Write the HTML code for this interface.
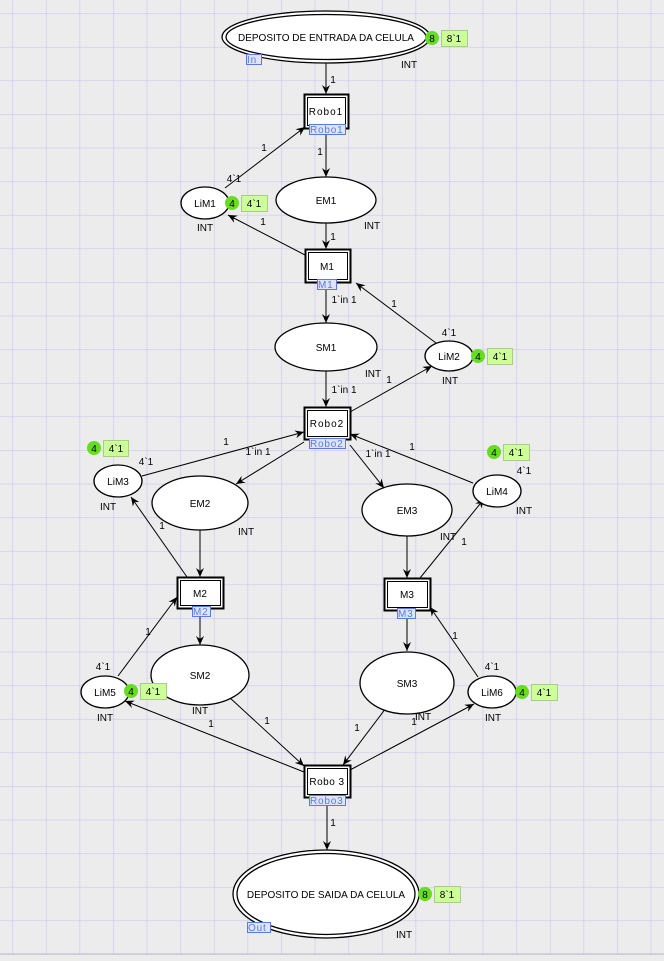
<!DOCTYPE html>
<html><head><meta charset="utf-8"><style>
html,body{margin:0;padding:0;background:#ececec;}
svg{display:block;font-family:"Liberation Sans",sans-serif;}
</style></head><body>
<svg width="664" height="961" viewBox="0 0 664 961" xmlns="http://www.w3.org/2000/svg">
<defs>
<pattern id="g" x="12.3" y="13.3" width="33.6" height="33.6" patternUnits="userSpaceOnUse">
<path d="M0 0H33.6M0 0V33.6" stroke="#c8c8f4" stroke-width="1.3" fill="none"/>
</pattern>
<marker id="a" markerWidth="10" markerHeight="10" refX="9" refY="5" orient="auto" markerUnits="userSpaceOnUse">
<path d="M0,1 L9,5 L0,9 L3,5 z" fill="#000"/>
</marker>
</defs>
<rect width="664" height="961" fill="#ececec"/>
<rect width="664" height="955" fill="url(#g)"/>
<line x1="0" y1="954" x2="664" y2="954" stroke="#b8b8c8"/>

<g stroke="#000" stroke-width="1" fill="none" marker-end="url(#a)">
<line x1="326" y1="63" x2="326" y2="94"/>
<line x1="326" y1="128" x2="326" y2="177"/>
<line x1="326" y1="223" x2="326" y2="249"/>
<line x1="305" y1="255" x2="228" y2="215"/>
<line x1="225" y1="188" x2="305" y2="127"/>
<line x1="326" y1="282" x2="326" y2="323"/>
<line x1="326" y1="371" x2="326" y2="407"/>
<line x1="350" y1="412" x2="432" y2="366"/>
<line x1="436" y1="343" x2="356" y2="283"/>
<line x1="142" y1="476" x2="304" y2="432"/>
<line x1="304" y1="442" x2="236" y2="484"/>
<line x1="200" y1="530" x2="200" y2="577"/>
<line x1="187" y1="577" x2="131" y2="497"/>
<line x1="350" y1="445" x2="384" y2="488"/>
<line x1="407" y1="536" x2="407" y2="578"/>
<line x1="420" y1="578" x2="484" y2="499"/>
<line x1="473" y1="483" x2="350" y2="434"/>
<line x1="407" y1="610" x2="407" y2="651"/>
<line x1="386" y1="708" x2="343" y2="765"/>
<line x1="350" y1="770" x2="474" y2="704"/>
<line x1="478" y1="677" x2="430" y2="607"/>
<line x1="200" y1="608" x2="200" y2="645"/>
<line x1="229" y1="697" x2="304" y2="766"/>
<line x1="118" y1="676" x2="177" y2="597"/>
<line x1="304" y1="772" x2="125" y2="701"/>
<line x1="327" y1="797" x2="327" y2="850"/>
</g>

<g fill="#fff" stroke="#000" stroke-width="1.3">
<ellipse cx="326" cy="37" rx="104" ry="26"/><ellipse cx="326" cy="37" rx="100" ry="22.5"/>
<ellipse cx="326" cy="200" rx="50" ry="23"/>
<ellipse cx="205" cy="203" rx="24" ry="16"/>
<ellipse cx="326" cy="347" rx="51" ry="24"/>
<ellipse cx="449" cy="356" rx="24" ry="15"/>
<ellipse cx="118" cy="481" rx="24" ry="16"/>
<ellipse cx="200" cy="503" rx="48" ry="27"/>
<ellipse cx="407" cy="510" rx="45" ry="26"/>
<ellipse cx="497" cy="491" rx="24" ry="16"/>
<ellipse cx="407" cy="683" rx="47" ry="31"/>
<ellipse cx="200" cy="675" rx="49" ry="30"/>
<ellipse cx="492" cy="692" rx="24" ry="16"/>
<ellipse cx="105" cy="692" rx="24" ry="16"/>
<ellipse cx="326" cy="894" rx="93" ry="44"/><ellipse cx="326" cy="894" rx="89" ry="40.5"/>
</g>

<g fill="#fff" stroke="#000">
<rect x="304.5" y="94.5" width="44" height="34" stroke-width="2"/><rect x="307.5" y="97.5" width="38" height="28" stroke-width="1"/>
<rect x="305.5" y="249.5" width="45" height="33" stroke-width="2"/><rect x="308.5" y="252.5" width="39" height="27" stroke-width="1"/>
<rect x="304.5" y="407.5" width="46" height="32" stroke-width="2"/><rect x="307.5" y="410.5" width="40" height="26" stroke-width="1"/>
<rect x="177.5" y="577.5" width="46" height="31" stroke-width="2"/><rect x="180.5" y="580.5" width="40" height="25" stroke-width="1"/>
<rect x="384.5" y="578.5" width="46" height="32" stroke-width="2"/><rect x="387.5" y="581.5" width="40" height="26" stroke-width="1"/>
<rect x="304.5" y="765.5" width="46" height="32" stroke-width="2"/><rect x="307.5" y="768.5" width="40" height="26" stroke-width="1"/>
</g>

<g fill="#dde4fb" stroke="#5b7ae0" stroke-width="1" font-size="10" >
<rect x="309.5" y="124.5" width="36" height="10"/>
<rect x="317.5" y="279.5" width="19" height="10"/>
<rect x="309.5" y="438.5" width="36" height="10"/>
<rect x="192.5" y="606.5" width="18" height="10"/>
<rect x="397.5" y="608.5" width="18" height="10"/>
<rect x="309.5" y="795.5" width="36" height="10"/>
<rect x="246.5" y="54.5" width="15" height="10"/>
<rect x="247.5" y="922.5" width="23" height="10"/>
</g>
<g fill="#5b7ae0" font-size="10" letter-spacing="0.8">
<text x="310" y="133">Robo1</text>
<text x="318" y="288">M1</text>
<text x="310" y="447">Robo2</text>
<text x="193" y="615">M2</text>
<text x="398" y="617">M3</text>
<text x="310" y="804">Robo3</text>
<text x="247" y="63">In</text>
<text x="248" y="931">Out</text>
</g>

<g fill="#000" font-size="10" text-anchor="middle">
<text x="326" y="41">DEPOSITO DE ENTRADA DA CELULA</text>
<text x="326" y="898">DEPOSITO DE SAIDA DA CELULA</text>
<text x="326" y="115" letter-spacing="1">Robo1</text>
<text x="327" y="270">M1</text>
<text x="327" y="427" letter-spacing="1">Robo2</text>
<text x="200" y="597">M2</text>
<text x="407" y="598">M3</text>
<text x="327" y="785" letter-spacing="0.5">Robo 3</text>
<text x="326" y="204">EM1</text>
<text x="205" y="207">LiM1</text>
<text x="326" y="351">SM1</text>
<text x="449" y="360">LiM2</text>
<text x="118" y="485">LiM3</text>
<text x="200" y="507">EM2</text>
<text x="407" y="514">EM3</text>
<text x="497" y="495">LiM4</text>
<text x="407" y="687">SM3</text>
<text x="200" y="679">SM2</text>
<text x="492" y="696">LiM6</text>
<text x="105" y="696">LiM5</text>
<text x="409" y="68">INT</text>
<text x="372" y="229">INT</text>
<text x="205" y="231">INT</text>
<text x="373" y="377">INT</text>
<text x="450" y="384">INT</text>
<text x="108" y="510">INT</text>
<text x="246" y="535">INT</text>
<text x="448" y="540">INT</text>
<text x="524" y="514">INT</text>
<text x="423" y="720">INT</text>
<text x="200" y="714">INT</text>
<text x="493" y="721">INT</text>
<text x="105" y="721">INT</text>
<text x="404" y="938">INT</text>
<text x="333" y="83">1</text>
<text x="320" y="155">1</text>
<text x="333" y="240">1</text>
<text x="263" y="225">1</text>
<text x="264" y="151">1</text>
<text x="344" y="303">1`in 1</text>
<text x="344" y="393">1`in 1</text>
<text x="389" y="383">1</text>
<text x="394" y="307">1</text>
<text x="226" y="445">1</text>
<text x="258" y="455">1`in 1</text>
<text x="162" y="529">1</text>
<text x="378" y="457">1`in 1</text>
<text x="464" y="545">1</text>
<text x="412" y="450">1</text>
<text x="357" y="731">1</text>
<text x="414" y="725">1</text>
<text x="455" y="639">1</text>
<text x="267" y="724">1</text>
<text x="148" y="635">1</text>
<text x="211" y="727">1</text>
<text x="333" y="826">1</text>
<text x="234" y="182">4`1</text>
<text x="449" y="336">4`1</text>
<text x="146" y="465">4`1</text>
<text x="524" y="474">4`1</text>
<text x="492" y="670">4`1</text>
<text x="103" y="670">4`1</text>
</g>

<g font-size="10" text-anchor="middle">
<g fill="#66dd22"><circle cx="432" cy="38" r="7"/><circle cx="232" cy="203" r="7"/><circle cx="478" cy="356" r="7"/><circle cx="94" cy="448" r="7"/><circle cx="494" cy="452" r="7"/><circle cx="522" cy="692" r="7"/><circle cx="131" cy="691" r="7"/><circle cx="425" cy="894" r="7"/></g>
<g fill="#000"><text x="432" y="42">8</text><text x="232" y="207">4</text><text x="478" y="360">4</text><text x="94" y="452">4</text><text x="494" y="456">4</text><text x="522" y="696">4</text><text x="131" y="695">4</text><text x="425" y="898">8</text></g>
<g fill="#ccff99" stroke="#aacc88" stroke-width="1"><rect x="441.5" y="30.5" width="26" height="16"/><rect x="241.5" y="195.5" width="26" height="16"/><rect x="487.5" y="348.5" width="25" height="16"/><rect x="103.5" y="440.5" width="25" height="16"/><rect x="503.5" y="444.5" width="26" height="16"/><rect x="531.5" y="684.5" width="26" height="16"/><rect x="140.5" y="683.5" width="26" height="16"/><rect x="434.5" y="886.5" width="26" height="16"/></g>
<g fill="#000"><text x="454" y="42">8`1</text><text x="254" y="207">4`1</text><text x="500" y="360">4`1</text><text x="116" y="452">4`1</text><text x="516" y="456">4`1</text><text x="544" y="696">4`1</text><text x="153" y="695">4`1</text><text x="447" y="898">8`1</text></g>
</g>
</svg>
</body></html>
